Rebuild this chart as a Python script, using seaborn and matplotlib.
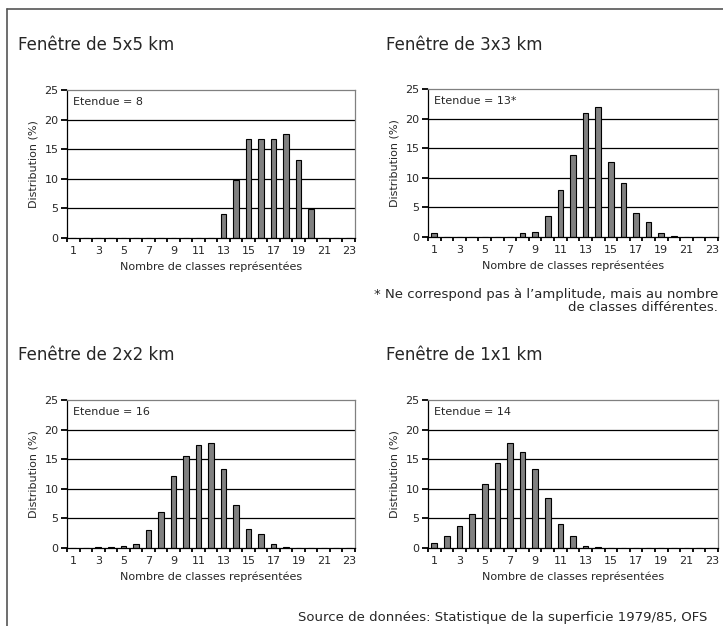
import numpy as np
import pandas as pd
import seaborn as sns
import matplotlib
matplotlib.use('Agg')
import matplotlib.pyplot as plt
from matplotlib.lines import Line2D
from matplotlib.ticker import FixedLocator

classes = [str(i) for i in range(1, 24)]
tick_labels = [str(i) for i in range(1, 24, 2)]

dist_5x5 = [0, 0, 0, 0, 0, 0, 0, 0, 0, 0, 0, 0,
            4.1, 9.8, 16.8, 16.8, 16.8, 17.5, 13.2, 4.9, 0, 0, 0]
dist_3x3 = [0.6, 0, 0, 0, 0, 0, 0, 0.6, 0.85, 3.5, 8.0, 13.9,
            21.0, 21.9, 12.7, 9.1, 4.0, 2.5, 0.6, 0.2, 0, 0, 0]
dist_2x2 = [0, 0, 0.2, 0.2, 0.4, 0.6, 3.0, 6.0, 12.1, 15.6, 17.4, 17.7,
            13.3, 7.3, 3.2, 2.3, 0.7, 0.2, 0, 0, 0, 0, 0]
dist_1x1 = [0.9, 2.0, 3.8, 5.8, 10.8, 14.4, 17.7, 16.3, 13.3, 8.4, 4.0, 2.1,
            0.4, 0.2, 0, 0, 0, 0, 0, 0, 0, 0, 0]

titles = ['Fenêtre de 5x5 km', 'Fenêtre de 3x3 km', 'Fenêtre de 2x2 km', 'Fenêtre de 1x1 km']
etendues = ['Etendue = 8', 'Etendue = 13*', 'Etendue = 16', 'Etendue = 14']
footnote = '* Ne correspond pas à l\u2019amplitude, mais au nombre\nde classes différentes.'
source = 'Source de données: Statistique de la superficie 1979/85, OFS'


def draw_panel(ax, values, label):
    df = pd.DataFrame({'classe': classes, 'dist': values})
    sns.barplot(data=df, x='classe', y='dist', order=classes, color='#808080',
                saturation=1, edgecolor='black', linewidth=0.8, width=0.45, ax=ax)
    ax.set_xlim(-0.5, 22.5)
    ax.set_ylim(0, 25)
    ax.set_yticks([0, 5, 10, 15, 20, 25])
    ax.set_xticks(range(0, 23, 2))
    ax.set_xticklabels(tick_labels)
    ax.xaxis.set_minor_locator(FixedLocator(np.arange(-0.5, 23, 1)))
    ax.tick_params(axis='x', which='major', bottom=True, length=0, pad=6, labelsize=8)
    ax.tick_params(axis='x', which='minor', bottom=True, length=3, direction='out',
                   width=1.3, color='black')
    ax.tick_params(axis='y', which='major', left=True, length=4, width=1.3, labelsize=8,
                   pad=2, color='black', direction='out')
    for y in [5, 10, 15, 20]:
        ax.axhline(y, color='black', lw=0.9, zorder=0)
    ax.spines['top'].set_color('#808080')
    ax.spines['right'].set_color('#808080')
    ax.spines['left'].set_color('black')
    ax.spines['bottom'].set_color('black')
    for s in ax.spines.values():
        s.set_linewidth(0.9)
    ax.set_xlabel('Nombre de classes représentées', fontsize=8, labelpad=4)
    ax.set_ylabel('Distribution (%)', fontsize=8, labelpad=4)
    ax.text(0.02, 0.92, label, transform=ax.transAxes, fontsize=8, va='center', ha='left')


if __name__ == '__main__':
    sns.set_style('ticks')
    plt.rcParams['font.family'] = ['DejaVu Sans']
    fig = plt.figure(figsize=(7.23, 6.26), dpi=100)

    W, H = 723.0, 626.0
    boxes = [(67, 90, 355, 238), (428, 89, 718, 237), (67, 400, 355, 548), (428, 400, 718, 548)]
    series = [dist_5x5, dist_3x3, dist_2x2, dist_1x1]
    title_pos = [(18, 45), (386, 45), (18, 355), (386, 355)]

    for (x0, y0, x1, y1), vals, lab, t, (tx, ty) in zip(boxes, series, etendues, titles, title_pos):
        ax = fig.add_axes([x0 / W, (H - y1) / H, (x1 - x0) / W, (y1 - y0) / H])
        draw_panel(ax, vals, lab)
        fig.text(tx / W, 1 - ty / H, t, fontsize=12, ha='left', va='center')

    fig.text(718 / W, 1 - 301 / H, footnote, fontsize=9.5, ha='right', va='center',
             multialignment='right', linespacing=1.05)
    fig.text(707 / W, 1 - 617 / H, source, fontsize=9.5, ha='right', va='center')

    # frame on left and top
    fig.add_artist(Line2D([7 / W, 7 / W], [0, 1 - 9 / H], transform=fig.transFigure,
                          color='#555555', lw=1.2))
    fig.add_artist(Line2D([7 / W, 1], [1 - 9 / H, 1 - 9 / H], transform=fig.transFigure,
                          color='#555555', lw=1.2))

    fig.savefig('out.png', dpi=100)
    plt.close()
